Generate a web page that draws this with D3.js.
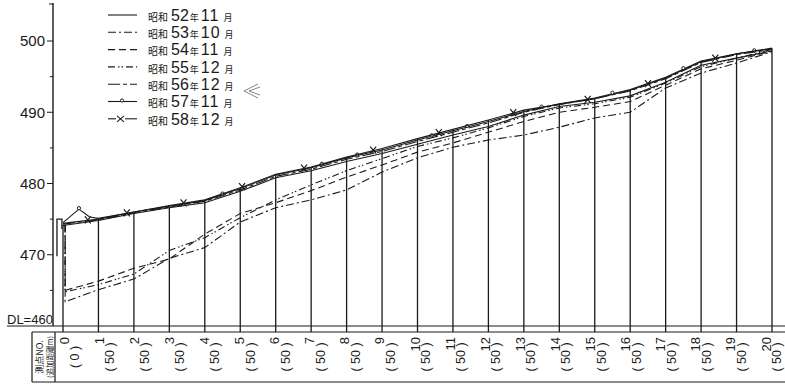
<!DOCTYPE html>
<html>
<head>
<meta charset="utf-8">
<script src="https://cdnjs.cloudflare.com/ajax/libs/d3/7.8.5/d3.min.js"></script>
<style>
  body { margin: 0; background: #fff; }
  svg { display: block; font-family: "Liberation Sans", Arial, sans-serif; }
  .jp { font-family: "Noto Sans CJK JP", sans-serif; }
</style>
</head>
<body>
<svg width="785" height="385"></svg>
<script>
// stations 0..20, 50 m apart
const stations = d3.range(0, 21);
const stationLabels = stations.map(String);
const distLabels = stations.map(s => s === 0 ? "(  0  )" : "( 50 )");

const yTicks = [470, 480, 490, 500];
const yMinorTicks = [465, 475, 485, 495];
const crest = 474.2;

// bed elevation (m) at each station
const s52 = [474.1, 474.8, 475.8, 476.6, 477.3, 478.9, 480.8, 481.8, 483.1, 484.2, 485.5, 486.8, 488.0, 489.6, 490.8, 491.4, 492.3, 494.2, 496.6, 497.6, 498.6];
const s53 = [463.4, 465.1, 466.6, 469.5, 471.0, 474.6, 476.6, 477.7, 479.1, 481.6, 483.6, 485.1, 486.1, 486.8, 487.9, 489.2, 490.0, 493.4, 495.5, 496.9, 498.5];
const s54 = [465.0, 466.3, 468.1, 469.4, 472.9, 475.8, 477.3, 479.0, 480.9, 482.6, 484.4, 485.7, 487.2, 488.7, 490.0, 490.7, 491.5, 493.8, 496.1, 497.3, 498.6];
const s55 = [464.8, 465.8, 467.3, 470.6, 472.4, 475.2, 477.7, 479.8, 481.8, 483.5, 485.2, 486.4, 487.8, 489.4, 490.6, 491.2, 492.1, 494.1, 496.4, 497.6, 498.8];
const s56 = [474.3, 474.9, 475.9, 476.7, 477.5, 479.1, 481.0, 482.0, 483.4, 484.5, 485.9, 487.2, 488.5, 490.0, 491.1, 491.9, 493.0, 494.7, 497.0, 498.1, 498.8];
const s57 = [474.5, 475.1, 476.0, 476.8, 477.6, 479.3, 481.2, 482.2, 483.6, 484.7, 486.1, 487.4, 488.7, 490.1, 491.2, 492.0, 493.2, 494.9, 497.2, 498.2, 498.9];
const s58 = [474.4, 475.0, 476.0, 476.9, 477.7, 479.4, 481.3, 482.3, 483.7, 484.9, 486.3, 487.6, 488.9, 490.3, 491.1, 491.9, 493.1, 494.8, 497.1, 498.2, 499.0];

const hump57 = [[0.45, 476.4], [0.75, 475.3]];
const marks57 = [0.45, 4.5, 7.3, 8.3, 10.4, 11.4, 13.5, 15.5, 17.5, 19.5];
const marks58 = [0.7, 1.8, 3.4, 5.05, 6.8, 8.75, 10.6, 12.7, 14.8, 16.5, 18.4];

// dam body at the upstream end (station, elevation)
const dam = [[-0.17, 469.8], [-0.17, 475.0], [-0.03, 475.0], [-0.03, 473.6]];

const legendYears = ["52", "53", "54", "55", "56", "57", "58"];
const legendMonths = ["11", "10", "11", "12", "12", "11", "12"];

const series = [
  { values: s52, dash: null, low: false },
  { values: s53, dash: "8,3,2,3", low: true },
  { values: s54, dash: "7,4", low: true },
  { values: s55, dash: "7,3,1.5,2,1.5,3", low: true },
  { values: s56, dash: "12,3,4,3", low: false },
  { values: s57, dash: null, low: false, extra: hump57, marker: "o", marks: marks57 },
  { values: s58, dash: null, low: false, marker: "x", marks: marks58 }
];

const svg = d3.select("svg");
const ink = "#1a1a1a";
const tableTop = 332, tableBottom = 382;

const x = d3.scaleLinear().domain([0, 20]).range([63, 772]);
const y = d3.scaleLinear().domain([460, 500]).range([326, 41]);

function points(s) {
  let pts = s.values.map((v, i) => [stations[i], v]);
  if (s.low) {
    pts[0] = [0.06, s.values[0]];
    pts.unshift([0.06, crest]);
  }
  if (s.extra) {
    pts = pts.concat(s.extra).sort((a, b) => a[0] - b[0]);
  }
  return pts;
}

const line = d3.line().x(d => x(d[0])).y(d => y(d[1]));

// vertical station lines
const tops = stations.map((s, i) => d3.max(series, d => d.values[i]));
svg.append("g").selectAll("line").data(stations).join("line")
  .attr("x1", d => x(d)).attr("x2", d => x(d))
  .attr("y1", (d, i) => y(i === 0 ? crest : tops[i]))
  .attr("y2", tableTop)
  .attr("stroke", ink).attr("stroke-width", 1.3);

// dam
svg.append("path").datum(dam).attr("d", line)
  .attr("fill", "none").attr("stroke", ink).attr("stroke-width", 1.3);

// profiles
const gLines = svg.append("g");
series.forEach(s => {
  const pts = points(s);
  gLines.append("path").datum(pts).attr("d", line)
    .attr("fill", "none").attr("stroke", ink).attr("stroke-width", 1.1)
    .attr("stroke-dasharray", s.dash);
  if (s.marker) {
    const f = d3.scaleLinear().domain(pts.map(p => p[0])).range(pts.map(p => p[1]));
    s.marks.forEach(m => {
      const cx = x(m), cy = y(f(m));
      if (s.marker === "o") {
        gLines.append("circle").attr("cx", cx).attr("cy", cy - 1).attr("r", 1.6)
          .attr("fill", "#fff").attr("stroke", ink).attr("stroke-width", 1);
      } else {
        gLines.append("path")
          .attr("d", `M${cx - 3},${cy - 4}L${cx + 3},${cy + 3}M${cx + 3},${cy - 4}L${cx - 3},${cy + 3}`)
          .attr("stroke", ink).attr("stroke-width", 1.2);
      }
    });
  }
});

// y axis
const axis = svg.append("g").attr("stroke", ink);
axis.append("line").attr("x1", 53).attr("x2", 53).attr("y1", 3).attr("y2", y(460)).attr("stroke-width", 1.4);
axis.append("line").attr("x1", 49).attr("x2", 53).attr("y1", 4).attr("y2", 4);
axis.selectAll(".major").data(yTicks).join("line").attr("class", "major")
  .attr("x1", 47).attr("x2", 53).attr("y1", d => y(d)).attr("y2", d => y(d));
axis.selectAll(".minor").data(yMinorTicks).join("line").attr("class", "minor")
  .attr("x1", 50).attr("x2", 53).attr("y1", d => y(d)).attr("y2", d => y(d));
svg.append("g").selectAll("text").data(yTicks).join("text")
  .attr("x", 45).attr("y", d => y(d)).attr("dy", "0.36em")
  .attr("text-anchor", "end").attr("font-size", 15).attr("fill", ink)
  .text(d => d);

// datum line
svg.append("line").attr("x1", 7).attr("x2", 785).attr("y1", y(460)).attr("y2", y(460))
  .attr("stroke", ink).attr("stroke-width", 1.2);
svg.append("text").attr("x", 7).attr("y", y(460) - 2).attr("font-size", 13).attr("fill", ink)
  .text("DL=460");

// station table
const table = svg.append("g").attr("stroke", ink).attr("stroke-width", 1.2);
table.append("line").attr("x1", 32).attr("x2", 785).attr("y1", tableTop).attr("y2", tableTop);
table.append("line").attr("x1", 32).attr("x2", 785).attr("y1", tableBottom).attr("y2", tableBottom);
table.append("line").attr("x1", 32).attr("x2", 32).attr("y1", tableTop).attr("y2", tableBottom);
table.append("line").attr("x1", 55).attr("x2", 55).attr("y1", tableTop).attr("y2", tableBottom);

svg.append("text").attr("class", "jp").attr("font-size", 9).attr("fill", ink)
  .attr("text-anchor", "middle").attr("dominant-baseline", "central")
  .attr("transform", `translate(39,357) rotate(-90)`).text("測点NO.");
svg.append("text").attr("class", "jp").attr("font-size", 7.5).attr("fill", ink)
  .attr("text-anchor", "middle").attr("dominant-baseline", "central")
  .attr("transform", `translate(49.5,357) rotate(-90)`).text("(追加距離m)");

const labels = svg.append("g").attr("fill", ink);
stations.forEach((s, i) => {
  const lx = x(s) + 1 - 0.35 * s;
  labels.append("text").attr("font-size", 13)
    .attr("text-anchor", "end").attr("dominant-baseline", "central")
    .attr("transform", `translate(${lx},337) rotate(-90)`)
    .text(stationLabels[i]);
  labels.append("text").attr("font-size", 12.5)
    .attr("text-anchor", "middle").attr("dominant-baseline", "central")
    .attr("transform", `translate(${lx + 11},357) rotate(-90)`)
    .text(distLabels[i]);
});

// legend
const legend = svg.append("g");
series.forEach((s, i) => {
  const ly = 15 + i * 17.3;
  legend.append("line").attr("x1", 108).attr("x2", 137).attr("y1", ly).attr("y2", ly)
    .attr("stroke", ink).attr("stroke-width", 1.1).attr("stroke-dasharray", s.dash);
  if (s.marker === "o") {
    legend.append("circle").attr("cx", 122).attr("cy", ly - 1).attr("r", 1.6)
      .attr("fill", "#fff").attr("stroke", ink);
  } else if (s.marker === "x") {
    legend.append("rect").attr("x", 116).attr("y", ly - 4).attr("width", 9).attr("height", 8).attr("fill", "#fff");
    legend.append("path")
      .attr("d", `M${117},${ly - 3}L${124},${ly + 3}M${124},${ly - 3}L${117},${ly + 3}`)
      .attr("stroke", ink).attr("stroke-width", 1.1);
  }
  const t = legend.append("text").attr("x", 148).attr("y", ly).attr("dy", "0.36em")
    .attr("fill", ink).attr("class", "jp");
  t.append("tspan").attr("font-size", 10).text("昭和");
  t.append("tspan").attr("font-size", 16).attr("font-family", "Liberation Sans, Arial").attr("dx", 3).text(legendYears[i]);
  t.append("tspan").attr("font-size", 9).attr("dx", 1).text("年");
  t.append("tspan").attr("font-size", 16).attr("font-family", "Liberation Sans, Arial").attr("dx", 2)
    .attr("letter-spacing", 1).text(legendMonths[i]);
  t.append("tspan").attr("font-size", 9).attr("dx", 4).text("月");
});

// hand-drawn arrow next to 56年12月
svg.append("path")
  .attr("d", "M258,84L244,91L258,98M260,87L249,91L260,95")
  .attr("fill", "none").attr("stroke", "#777").attr("stroke-width", 0.9);
</script>
</body>
</html>
